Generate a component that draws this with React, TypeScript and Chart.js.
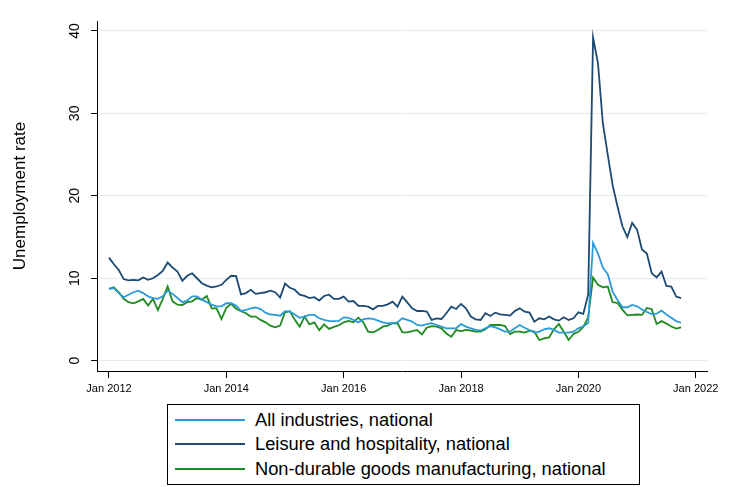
import React, { useEffect, useRef } from "react";
import { Chart, registerables } from "chart.js";

Chart.register(...registerables);

// Month index 0 = Jan 2012 ... 117 = Oct 2021
const xTickMonths = [0, 24, 48, 72, 96, 120];
const xTickLabels = ["Jan 2012", "Jan 2014", "Jan 2016", "Jan 2018", "Jan 2020", "Jan 2022"];
const yTicks = [0, 10, 20, 30, 40];

const seriesNames = [
  "All industries, national",
  "Leisure and hospitality, national",
  "Non-durable goods manufacturing, national",
];
const seriesColors = ["#2a9bd6", "#1c4a74", "#1f8a1f"];

const allIndustries = [
  8.7, 8.8, 8.2, 7.7, 8.0, 8.3, 8.5, 8.2, 7.8, 7.6, 7.5, 7.8,
  8.5, 8.1, 7.6, 7.1, 7.3, 7.8, 7.8, 7.4, 7.1, 6.8, 6.6, 6.6,
  6.97, 6.97, 6.7, 6.03, 6.15, 6.35, 6.45, 6.26, 5.83, 5.6, 5.55, 5.46,
  6.0, 5.95, 5.6, 5.2, 5.35, 5.55, 5.55, 5.15, 4.94, 4.8, 4.8, 4.82,
  5.26, 5.2, 4.94, 4.66, 5.0, 5.14, 5.06, 4.86, 4.66, 4.54, 4.54, 4.66,
  5.14, 4.94, 4.74, 4.33, 4.25, 4.45, 4.54, 4.33, 4.13, 3.93, 3.93, 3.93,
  4.45, 4.13, 3.93, 3.73, 3.64, 3.93, 4.2, 4.05, 3.8, 3.52, 3.52, 3.93,
  4.33, 4.0, 3.73, 3.4, 3.52, 3.8, 3.93, 3.73, 3.4, 3.4, 3.4, 3.52,
  3.93, 4.17, 4.57, 14.3, 13.0, 11.3, 10.5, 8.38, 7.37, 6.48, 6.48, 6.76,
  6.6, 6.2, 5.9, 5.66, 5.7, 6.07, 5.6, 5.2, 4.8, 4.6,
];

const leisureHospitality = [
  12.5, 11.7, 11.0, 9.9, 9.75, 9.8, 9.75, 10.1, 9.8, 10.0, 10.4, 10.9,
  11.9, 11.3, 10.8, 9.7, 10.3, 10.6, 10.0, 9.4, 9.1, 8.9, 9.0, 9.2,
  9.8, 10.3, 10.25, 8.05, 8.2, 8.6, 8.1, 8.2, 8.3, 8.5, 8.3, 7.65,
  9.35, 8.85, 8.6, 8.0, 7.85, 7.6, 7.7, 7.3, 7.85, 8.0, 7.5, 7.5,
  7.77, 7.16, 7.24, 6.64, 6.64, 6.56, 6.23, 6.64, 6.64, 6.84, 7.16, 6.56,
  7.77, 7.08, 6.35, 6.03, 6.03, 5.95, 4.94, 5.14, 5.06, 5.75, 6.56, 6.27,
  6.88, 6.35, 5.35, 5.02, 4.94, 5.75, 5.43, 5.83, 5.63, 5.55, 5.47, 6.03,
  6.35, 5.95, 5.83, 4.73, 5.14, 5.02, 5.35, 5.02, 4.86, 5.27, 4.94, 5.14,
  5.87, 5.67, 8.0, 39.2, 36.1, 28.8, 25.0, 21.3, 18.7, 16.3, 15.0, 16.7,
  15.9, 13.5, 13.0, 10.6, 10.1, 10.8, 9.06, 9.0, 7.78, 7.6,
];

const nonDurableMfg = [
  8.7, 8.9, 8.3, 7.5, 7.1, 6.95, 7.2, 7.5, 6.7, 7.5, 6.15, 7.5,
  9.0, 7.2, 6.8, 6.75, 7.1, 7.2, 7.6, 7.4, 7.85, 6.35, 6.35, 5.05,
  6.4, 6.9, 6.3, 6.0, 5.75, 5.35, 5.35, 4.95, 4.65, 4.25, 4.05, 4.25,
  5.87, 6.0, 4.95, 4.13, 5.35, 4.4, 4.65, 3.7, 4.4, 3.85, 4.1, 4.3,
  4.66, 4.82, 4.66, 5.22, 4.66, 3.52, 3.44, 3.72, 4.13, 4.25, 4.54, 4.54,
  3.44, 3.44, 3.6, 3.72, 3.2, 4.0, 4.2, 4.13, 3.93, 3.3, 2.9, 3.72,
  3.6, 3.73, 3.64, 3.52, 3.52, 3.8, 4.33, 4.33, 4.33, 4.2, 3.24, 3.52,
  3.52, 3.4, 3.64, 3.52, 2.51, 2.71, 2.83, 3.8, 4.45, 3.52, 2.51, 3.24,
  3.5, 4.1, 5.26, 10.1, 9.2, 8.9, 9.0, 7.1, 7.0, 6.2, 5.5, 5.55,
  5.6, 5.55, 6.4, 6.25, 4.45, 4.8, 4.5, 4.15, 3.9, 4.05,
];

const seriesValues = [allIndustries, leisureHospitality, nonDurableMfg];
const months = allIndustries.map((_, i) => i);

const FONT = "'Liberation Sans', Arial, Helvetica, sans-serif";

export default function App() {
  const canvasRef = useRef<HTMLCanvasElement | null>(null);

  useEffect(() => {
    document.body.style.margin = "0";
    const canvas = canvasRef.current;
    if (!canvas) return;
    const chart = new Chart(canvas, {
      type: "line",
      data: {
        datasets: seriesValues.map((vals, si) => ({
          label: seriesNames[si],
          data: months.map((m, i) => ({ x: m, y: vals[i] })),
          borderColor: seriesColors[si],
          backgroundColor: seriesColors[si],
          borderWidth: 1.8,
          pointRadius: 0,
          tension: 0,
          fill: false,
        })),
      },
      options: {
        responsive: false,
        animation: false,
        layout: { padding: { top: 21, right: 23, left: 0, bottom: 0 } },
        plugins: {
          legend: { display: false },
          tooltip: { enabled: false },
        },
        scales: {
          x: {
            type: "linear",
            min: -2.45,
            max: 122.3,
            afterBuildTicks: (s: any) => {
              s.ticks = xTickMonths.map((v) => ({ value: v }));
            },
            afterFit: (s: any) => {
              s.height = 29;
            },
            grid: {
              drawOnChartArea: false,
              drawTicks: true,
              tickLength: 7,
              tickColor: "#000",
            },
            border: { display: true, color: "#000", width: 1 },
            ticks: {
              autoSkip: false,
              maxRotation: 0,
              minRotation: 0,
              padding: 4,
              color: "#000",
              font: { family: FONT, size: 11 },
              callback: (v: any) => {
                const k = xTickMonths.indexOf(Number(v));
                return k >= 0 ? xTickLabels[k] : "";
              },
            },
          },
          y: {
            type: "linear",
            min: -1.25,
            max: 41.2,
            afterBuildTicks: (s: any) => {
              s.ticks = yTicks.map((v) => ({ value: v }));
            },
            afterFit: (s: any) => {
              s.width = 97;
            },
            grid: {
              color: "#e3ecef",
              lineWidth: 1,
              drawTicks: true,
              tickLength: 6,
              tickColor: "#000",
            },
            border: { display: true, color: "#000", width: 1 },
            ticks: {
              color: "#000",
              font: { family: FONT, size: 14 },
              padding: 8,
              minRotation: 90,
              maxRotation: 90,
              crossAlign: "center",
              callback: (v: any) => String(v),
            },
            title: {
              display: true,
              text: "Unemployment rate",
              color: "#000",
              font: { family: FONT, size: 17 },
              padding: { top: 10, bottom: 0 },
            },
          },
        },
      },
    });
    return () => chart.destroy();
  }, []);

  const rowTops = [16, 40, 65];

  return (
    <div style={{ position: "relative", width: 730, height: 487, background: "#fff", overflow: "hidden" }}>
      <canvas ref={canvasRef} width={730} height={400} style={{ position: "absolute", left: 0, top: 0 }} />
      <div
        style={{
          position: "absolute",
          left: 167,
          top: 404,
          width: 473,
          height: 81,
          border: "1px solid #000",
          boxSizing: "border-box",
          background: "#fff",
          fontFamily: FONT,
          fontSize: 18.3,
          color: "#000",
        }}
      >
        {seriesNames.map((name, i) => (
          <div key={name} style={{ position: "absolute", left: 0, top: rowTops[i] - 1, width: "100%", height: 0 }}>
            <div
              style={{
                position: "absolute",
                left: 7,
                top: -1,
                width: 70,
                height: 2,
                background: seriesColors[i],
              }}
            />
            <div
              style={{
                position: "absolute",
                left: 87,
                top: -12,
                lineHeight: "24px",
                whiteSpace: "nowrap",
              }}
            >
              {name}
            </div>
          </div>
        ))}
      </div>
    </div>
  );
}
